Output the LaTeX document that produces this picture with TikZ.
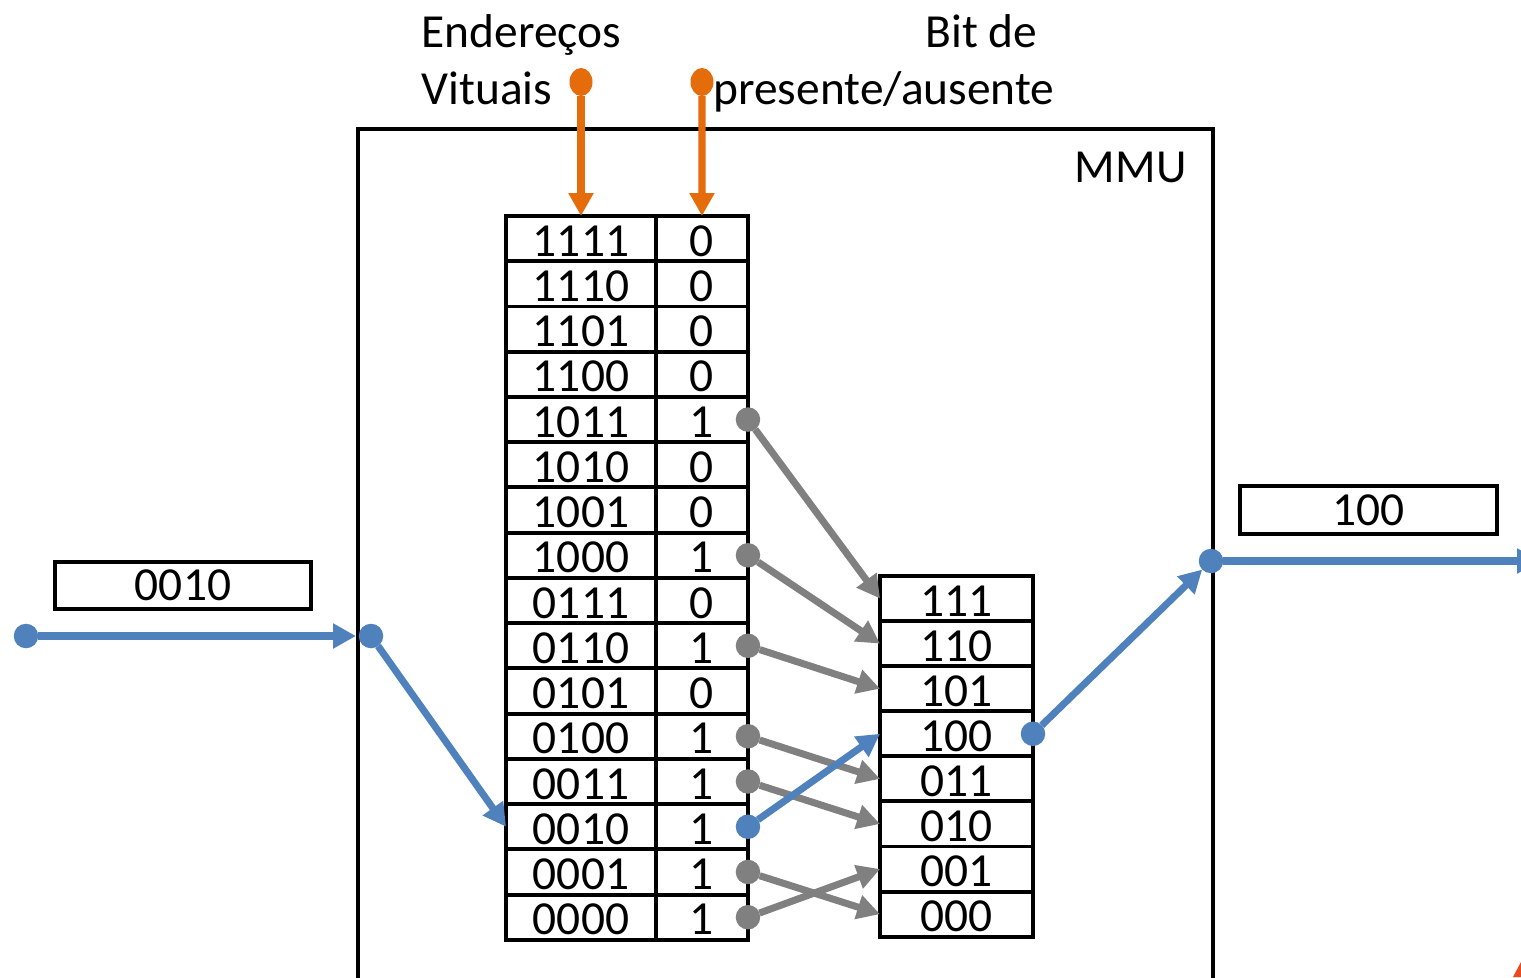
\documentclass[tikz,border=0pt]{standalone}
\usepackage{fontspec}
\setmainfont{Carlito}
\usepackage{tikz}
\usetikzlibrary{arrows.meta,positioning,shapes.geometric}

\definecolor{mmublue}{RGB}{79,129,189}
\definecolor{mmugray}{RGB}{128,128,128}
\definecolor{mmuorange}{RGB}{228,108,10}
\definecolor{mmured}{RGB}{234,74,30}

\begin{document}
\begin{tikzpicture}[x=0.02cm,y=-0.02cm,>={Triangle[length=13pt,width=13.5pt]},
      line width=4pt,
      font=\fontsize{27}{32}\selectfont]
    \tikzstyle{cell}=[draw,line width=2.2pt,inner sep=0pt,outer sep=0pt,minimum height=0.905cm,
                      text height=20pt,text depth=0pt]
    \tikzstyle{vcell}=[cell,minimum width=3cm]
    \tikzstyle{bcell}=[cell,minimum width=1.84cm]
    \tikzstyle{fcell}=[cell,minimum width=3.06cm,minimum height=0.902cm]
    \tikzstyle{valbox}=[draw,line width=2.2pt,inner sep=0pt,minimum height=0.95cm]
    \tikzstyle{lbl}=[inner sep=0pt]
    \tikzstyle{dot}=[circle,inner sep=0pt,outer sep=0pt,minimum size=0.49cm]
    \tikzstyle{gdot}=[dot,fill=mmugray]
    \tikzstyle{bdot}=[dot,fill=mmublue]
    \tikzstyle{odot}=[ellipse,inner sep=0pt,outer sep=0pt,minimum width=0.46cm,
                      minimum height=0.56cm,fill=mmuorange]

    \useasboundingbox (0,0) rectangle (1521,977);
    \clip (0,0) rectangle (1521,977);

    \node[draw,line width=2.2pt,inner sep=0pt,minimum width=17.1cm,minimum height=20cm,
          anchor=north west] (mmu) at (356,127) {};
    \node[lbl,anchor=base east] (mmulbl) at (1190,182) {MMU};

    \node[lbl,anchor=base west] (lblend) at (418,47) {Endereços};
    \node[lbl,anchor=base west] (lblvit) at (418,104) {Vituais};
    \node[lbl,anchor=base east] (lblbit) at (1041,47) {Bit de};
    \node[lbl,anchor=base west] (lblpres) at (710,104) {presente/ausente};

    \node[vcell] (v1111) at (581,238.6) {1111}; \node[bcell,right=0pt of v1111] (b1111) {0};
    \node[vcell,below=0pt of v1111] (v1110) {1110}; \node[bcell,right=0pt of v1110] (b1110) {0};
    \node[vcell,below=0pt of v1110] (v1101) {1101}; \node[bcell,right=0pt of v1101] (b1101) {0};
    \node[vcell,below=0pt of v1101] (v1100) {1100}; \node[bcell,right=0pt of v1100] (b1100) {0};
    \node[vcell,below=0pt of v1100] (v1011) {1011}; \node[bcell,right=0pt of v1011] (b1011) {1};
    \node[vcell,below=0pt of v1011] (v1010) {1010}; \node[bcell,right=0pt of v1010] (b1010) {0};
    \node[vcell,below=0pt of v1010] (v1001) {1001}; \node[bcell,right=0pt of v1001] (b1001) {0};
    \node[vcell,below=0pt of v1001] (v1000) {1000}; \node[bcell,right=0pt of v1000] (b1000) {1};
    \node[vcell,below=0pt of v1000] (v0111) {0111}; \node[bcell,right=0pt of v0111] (b0111) {0};
    \node[vcell,below=0pt of v0111] (v0110) {0110}; \node[bcell,right=0pt of v0110] (b0110) {1};
    \node[vcell,below=0pt of v0110] (v0101) {0101}; \node[bcell,right=0pt of v0101] (b0101) {0};
    \node[vcell,below=0pt of v0101] (v0100) {0100}; \node[bcell,right=0pt of v0100] (b0100) {1};
    \node[vcell,below=0pt of v0100] (v0011) {0011}; \node[bcell,right=0pt of v0011] (b0011) {1};
    \node[vcell,below=0pt of v0011] (v0010) {0010}; \node[bcell,right=0pt of v0010] (b0010) {1};
    \node[vcell,below=0pt of v0010] (v0001) {0001}; \node[bcell,right=0pt of v0001] (b0001) {1};
    \node[vcell,below=0pt of v0001] (v0000) {0000}; \node[bcell,right=0pt of v0000] (b0000) {1};

    \node[fcell] (f111) at (956.5,598.5) {111};
    \node[fcell,below=0pt of f111] (f110) {110};
    \node[fcell,below=0pt of f110] (f101) {101};
    \node[fcell,below=0pt of f101] (f100) {100};
    \node[fcell,below=0pt of f100] (f011) {011};
    \node[fcell,below=0pt of f011] (f010) {010};
    \node[fcell,below=0pt of f010] (f001) {001};
    \node[fcell,below=0pt of f001] (f000) {000};

    \node[valbox,minimum width=5.12cm] (vin) at (183,585.5) {0010};
    \node[valbox,minimum width=5.14cm] (vout) at (1368.5,510) {100};

    \node[odot] (oadr) at (581,82) {};
    \node[odot] (obit) at (702,82) {};
    \path[->,mmuorange] (oadr) edge (v1111.north)
    (obit) edge (b1111.north);

    \node[gdot] (g1011) at (b1011.east) {};
    \node[gdot] (g1000) at (b1000.east) {};
    \node[gdot] (g0110) at (b0110.east) {};
    \node[gdot] (g0100) at (b0100.east) {};
    \node[gdot] (g0011) at (b0011.east) {};
    \node[gdot] (g0001) at (b0001.east) {};
    \node[gdot] (g0000) at (b0000.east) {};
    \path[->,mmugray] (g1011) edge (f111.west)
    (g1000) edge (f110.west)
    (g0110) edge (f101.west)
    (g0100) edge (f011.west)
    (g0011) edge (f010.west)
    (g0001) edge (f000.west)
    (g0000) edge (f001.west);

    \node[bdot] (bin) at (26,636) {};
    \node[bdot] (bmmu) at (371,636) {};
    \node[bdot] (bpt) at (b0010.east) {};
    \node[bdot] (bfr) at (f100.east) {};
    \node[bdot] (bout) at (1211,561) {};
    \coordinate (bend) at (1540,561);
    \path[->,mmublue] (bin) edge (mmu.west |- bin)
    (bmmu) edge (v0010.west)
    (bpt) edge (f100.west)
    (bfr) edge (bout)
    (bout) edge (bend);

    \fill[mmured] (1521,962) -- (1513,977) -- (1521,977) -- cycle;
  \end{tikzpicture}
\end{document}
